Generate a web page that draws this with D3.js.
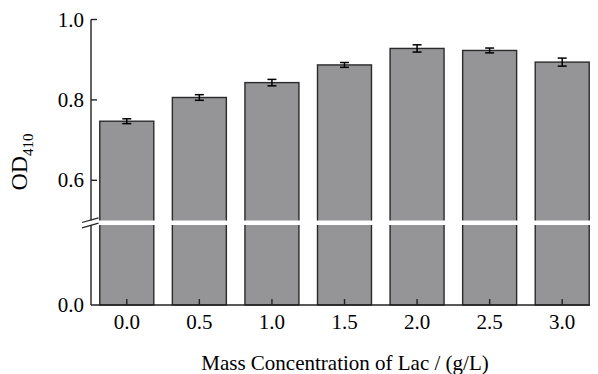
<!DOCTYPE html>
<html>
<head>
<meta charset="utf-8">
<script src="https://cdn.jsdelivr.net/npm/d3@7/dist/d3.min.js"></script>
<style>
  html, body { margin: 0; padding: 0; background: #fff; }
  svg { display: block; }
  text { font-family: "Liberation Serif", "Times New Roman", serif; fill: #000; }
</style>
</head>
<body>
<svg id="chart" width="598" height="374"></svg>
<script>
const categories = ["0.0", "0.5", "1.0", "1.5", "2.0", "2.5", "3.0"];
const values = [0.747, 0.806, 0.843, 0.887, 0.928, 0.923, 0.894];
const errors = [0.006, 0.007, 0.008, 0.006, 0.009, 0.006, 0.010];
const yTickValues = [0.0, 0.6, 0.8, 1.0];
const yTickLabels = ["0.0", "0.6", "0.8", "1.0"];
const xTitle = "Mass Concentration of Lac / (g/L)";

const svg = d3.select("#chart");
const axisX = 91, axisBottom = 305, axisRight = 590;

const x = d3.scaleBand().domain(categories).range([90.5, 598.5])
  .paddingInner(0.256).paddingOuter(0.128);
// broken axis: 0..0.5 compressed in the lower segment, 0.5..1.0 in the upper
const y = d3.scaleLinear().domain([0, 0.5, 1.0]).range([axisBottom, 220.5, 19.5]);

const g = svg.append("g");

// bars
g.selectAll("rect.bar").data(values).enter().append("rect")
  .attr("class", "bar")
  .attr("x", (d, i) => x(categories[i]))
  .attr("width", x.bandwidth())
  .attr("y", d => y(d))
  .attr("height", d => y(0) - y(d))
  .attr("fill", "#959598")
  .attr("stroke", "#2a2a2a")
  .attr("stroke-width", 1.4);

// error bars
const eb = g.selectAll("g.err").data(values).enter().append("g")
  .attr("transform", (d, i) => `translate(${x(categories[i]) + x.bandwidth() / 2},0)`);
eb.append("line")
  .attr("x1", 0).attr("x2", 0)
  .attr("y1", (d, i) => y(d + errors[i]))
  .attr("y2", (d, i) => y(d - errors[i]))
  .attr("stroke", "#000").attr("stroke-width", 1.5);
eb.append("line")
  .attr("x1", -4.5).attr("x2", 4.5)
  .attr("y1", (d, i) => y(d + errors[i]))
  .attr("y2", (d, i) => y(d + errors[i]))
  .attr("stroke", "#000").attr("stroke-width", 1.5);
eb.append("line")
  .attr("x1", -4.5).attr("x2", 4.5)
  .attr("y1", (d, i) => y(d - errors[i]))
  .attr("y2", (d, i) => y(d - errors[i]))
  .attr("stroke", "#000").attr("stroke-width", 1.5);

// axis lines
g.append("line").attr("x1", axisX).attr("x2", axisX).attr("y1", y(1.0)).attr("y2", axisBottom)
  .attr("stroke", "#222").attr("stroke-width", 1.4);
g.append("line").attr("x1", axisX).attr("x2", axisRight).attr("y1", axisBottom).attr("y2", axisBottom)
  .attr("stroke", "#222").attr("stroke-width", 1.4);

// y ticks (inward) and labels
yTickValues.forEach((v, i) => {
  if (v > 0) {
    g.append("line").attr("x1", axisX).attr("x2", axisX + 6)
      .attr("y1", y(v)).attr("y2", y(v)).attr("stroke", "#222").attr("stroke-width", 1.4);
  }
  g.append("text").attr("x", axisX - 7).attr("y", y(v)).attr("dy", "0.34em")
    .attr("text-anchor", "end").attr("font-size", 21).text(yTickLabels[i]);
});

// x ticks (inward) and labels
categories.forEach(c => {
  const cx = x(c) + x.bandwidth() / 2;
  g.append("line").attr("x1", cx).attr("x2", cx).attr("y1", axisBottom).attr("y2", axisBottom - 6)
    .attr("stroke", "#222").attr("stroke-width", 1.4);
  g.append("text").attr("x", cx).attr("y", 329).attr("text-anchor", "middle")
    .attr("font-size", 21).text(c);
});

// break band
g.append("rect").attr("x", axisX - 2).attr("y", 220.5).attr("width", axisRight - axisX + 4).attr("height", 4.5)
  .attr("fill", "#fff");
// break slashes
g.append("line").attr("x1", 82).attr("y1", 222.5).attr("x2", 98.5).attr("y2", 217.8)
  .attr("stroke", "#222").attr("stroke-width", 1.2);
g.append("line").attr("x1", 82).attr("y1", 227.8).attr("x2", 98.5).attr("y2", 223.1)
  .attr("stroke", "#222").attr("stroke-width", 1.2);

// axis titles
g.append("text").attr("x", 345).attr("y", 370).attr("text-anchor", "middle")
  .attr("font-size", 21).text(xTitle);

const yt = g.append("text").attr("transform", "translate(27,162) rotate(-90)")
  .attr("text-anchor", "middle").attr("font-size", 24);
yt.append("tspan").text("OD");
yt.append("tspan").attr("font-size", 15).attr("dy", 6).text("410");
</script>
</body>
</html>
